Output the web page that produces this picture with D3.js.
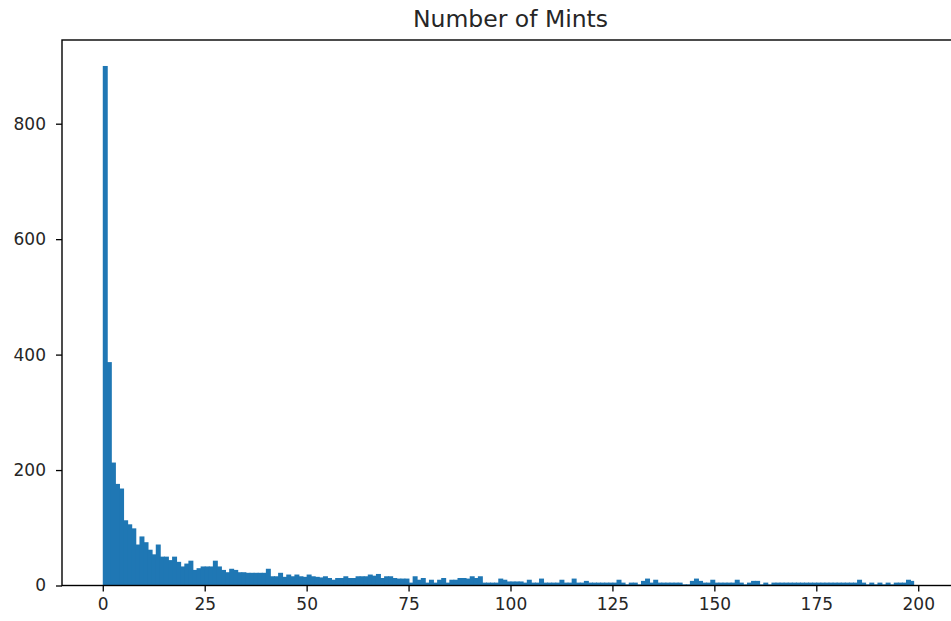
<!DOCTYPE html>
<html>
<head>
<meta charset="utf-8">
<script src="https://cdn.jsdelivr.net/npm/d3@7"></script>
<style>
  body { margin: 0; background: #fff; }
  svg { display: block; font-family: "DejaVu Sans", sans-serif; }
</style>
</head>
<body>
<figure id="hist" style="margin:0"></figure>
<script>
// histogram counts, one bin per unit from 0 to 200
const binStart = 0;
const binWidth = 1;
const counts = [
  900, 387, 213, 176, 168, 113, 106, 99, 71, 85,
  75, 62, 54, 71, 50, 50, 44, 50, 41, 33,
  38, 43, 27, 30, 33, 33, 33, 43, 33, 27,
  23, 29, 27, 23, 23, 22, 22, 22, 22, 22,
  29, 16, 16, 22, 15, 19, 16, 19, 16, 15,
  19, 16, 15, 14, 16, 13, 10, 13, 13, 16,
  13, 13, 16, 16, 16, 19, 17, 20, 13, 16,
  16, 13, 12, 12, 12, 5, 16, 10, 13, 5,
  10, 5, 10, 13, 5, 10, 10, 13, 13, 12,
  16, 13, 16, 5, 5, 5, 5, 12, 10, 7,
  7, 7, 7, 5, 10, 5, 5, 12, 5, 5,
  5, 5, 10, 5, 5, 12, 5, 5, 8, 5,
  5, 5, 5, 5, 5, 5, 10, 5, 2, 5,
  5, 2, 8, 12, 5, 10, 5, 5, 5, 5,
  5, 5, 2, 2, 8, 12, 8, 5, 5, 10,
  5, 5, 5, 5, 5, 10, 5, 2, 5, 8,
  8, 2, 5, 2, 5, 5, 5, 5, 5, 5,
  5, 5, 5, 5, 5, 5, 5, 5, 5, 5,
  5, 5, 5, 5, 5, 10, 5, 2, 5, 2,
  5, 2, 5, 2, 5, 5, 5, 10, 8, 0
];
const xTicks = [0, 25, 50, 75, 100, 125, 150, 175, 200];
const yTicks = [0, 200, 400, 600, 800];
const title = "Number of Mints";

const width = 951, height = 621;
const margin = { top: 40, left: 62, right: -8, bottom: 35.5 };
const innerW = width - margin.left - margin.right;
const innerH = height - margin.top - margin.bottom;

const svg = d3.select("figure#hist")
  .append("svg")
  .attr("width", width)
  .attr("height", height);

const g = svg.append("g")
  .attr("transform", "translate(" + margin.left + "," + margin.top + ")");

const binEnd = binStart + counts.length * binWidth;
const pad = (binEnd - binStart) * 0.05;
const x = d3.scaleLinear()
  .domain([binStart - pad, binEnd + pad])
  .range([0, innerW]);

const yMax = d3.max(counts) * 1.05;
const y = d3.scaleLinear()
  .domain([0, yMax])
  .range([innerH, 0]);

// bars (slight overlap so no seams show between neighbours)
g.append("g")
  .selectAll("rect")
  .data(counts)
  .enter()
  .append("rect")
  .attr("x", (d, i) => x(binStart + i * binWidth))
  .attr("width", (d, i) => x(binStart + (i + 1) * binWidth) - x(binStart + i * binWidth) + (i < counts.length - 1 && counts[i + 1] > 0 ? 0.9 : 0))
  .attr("y", d => y(d))
  .attr("height", d => innerH - y(d))
  .attr("fill", "#1f77b4");

// axes
const xAxis = g.append("g")
  .attr("transform", "translate(0," + innerH + ")")
  .call(d3.axisBottom(x).tickValues(xTicks).tickSize(6).tickPadding(6));
const yAxis = g.append("g")
  .call(d3.axisLeft(y).tickValues(yTicks).tickSize(6).tickPadding(10));

[xAxis, yAxis].forEach(a => {
  a.select(".domain").remove();
  a.selectAll(".tick line").attr("stroke", "#000").attr("stroke-width", 1.3);
  a.selectAll(".tick text")
    .attr("fill", "#262626")
    .style("font-size", "17px")
    .style("font-family", "'DejaVu Sans', sans-serif");
});

// frame
g.append("rect")
  .attr("x", 0)
  .attr("y", 0)
  .attr("width", innerW)
  .attr("height", innerH)
  .attr("fill", "none")
  .attr("stroke", "#000")
  .attr("stroke-width", 1.4);

svg.append("text")
  .attr("x", margin.left + innerW / 2)
  .attr("y", 27)
  .attr("text-anchor", "middle")
  .attr("fill", "#262626")
  .style("font-size", "23.5px")
  .text(title);
</script>
</body>
</html>
